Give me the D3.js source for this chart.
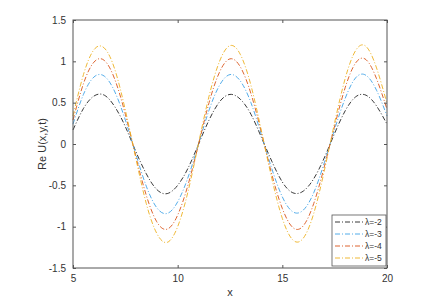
<!DOCTYPE html>
<html><head><meta charset="utf-8">
<script src="https://cdn.jsdelivr.net/npm/d3@7"></script>
<style>body{margin:0;background:#fff}svg{display:block}text{font-family:"Liberation Sans",Arial,sans-serif}</style>
</head><body><svg id="c" width="434" height="306"></svg>
<script>
const xs = [5,5.5,6,6.5,7,7.5,8,8.5,9,9.5,10,10.5,11,11.5,12,12.5,13,13.5,14,14.5,15,15.5,16,16.5,17,17.5,18,18.5,19,19.5,20];
const lam2 = [0.17,0.43,0.58,0.59,0.45,0.21,-0.09,-0.36,-0.55,-0.60,-0.50,-0.29,0.00,0.29,0.51,0.60,0.54,0.36,0.08,-0.21,-0.46,-0.59,-0.57,-0.42,-0.17,0.13,0.40,0.57,0.59,0.46,0.24];
const lam3 = [0.24,0.60,0.81,0.82,0.63,0.29,-0.12,-0.51,-0.77,-0.84,-0.70,-0.40,0.00,0.41,0.71,0.84,0.76,0.50,0.11,-0.30,-0.64,-0.82,-0.80,-0.59,-0.23,0.18,0.55,0.80,0.83,0.65,0.34];
const lam4 = [0.29,0.73,0.99,1.01,0.78,0.36,-0.15,-0.62,-0.94,-1.03,-0.86,-0.49,0.00,0.50,0.87,1.03,0.93,0.61,0.14,-0.37,-0.78,-1.01,-0.99,-0.72,-0.28,0.22,0.68,0.98,1.02,0.79,0.42];
const lam5 = [0.34,0.84,1.14,1.16,0.90,0.41,-0.17,-0.72,-1.08,-1.19,-1.00,-0.57,0.01,0.58,1.00,1.19,1.08,0.71,0.16,-0.42,-0.90,-1.16,-1.14,-0.84,-0.33,0.26,0.79,1.13,1.18,0.92,0.49];
const seriesNames = ["λ=-2","λ=-3","λ=-4","λ=-5"];
const seriesColors = ["#222222","#3FA3E6","#D95319","#EDB120"];
const xTicks = [5,10,15,20];
const yTicks = [-1.5,-1,-0.5,0,0.5,1,1.5];

const svg = d3.select("#c");
const L=73,R=387,T=20,B=268;
const x = d3.scaleLinear().domain([5,20]).range([L,R]);
const y = d3.scaleLinear().domain([-1.5,1.5]).range([B,T]);
const axCol="#555555", txtCol="#333333";

const series=[lam2,lam3,lam4,lam5];
const line=d3.line().x((d,i)=>x(xs[i])).y(d=>y(d)).curve(d3.curveNatural);
const g=svg.append("g");
series.forEach((s,k)=>{
  g.append("path").attr("d",line(s)).attr("fill","none").attr("stroke",seriesColors[k])
   .attr("stroke-width",0.9).attr("stroke-dasharray","5,2,1,2");
});

function styleAxis(sel){
  sel.select(".domain").remove();
  sel.selectAll("line").attr("stroke",axCol);
  sel.selectAll("text").attr("fill",txtCol).style("font-size","10px");
}
svg.append("g").attr("transform",`translate(0,${B})`).call(d3.axisBottom(x).tickValues(xTicks).tickSizeInner(-3).tickSizeOuter(0).tickPadding(7).tickFormat(d3.format("d"))).call(styleAxis);
svg.append("g").attr("transform",`translate(0,${T})`).call(d3.axisTop(x).tickValues(xTicks).tickSizeInner(-3).tickSizeOuter(0).tickFormat("")).call(styleAxis);
svg.append("g").attr("transform",`translate(${L},0)`).call(d3.axisLeft(y).tickValues(yTicks).tickSizeInner(-3).tickSizeOuter(0).tickPadding(7).tickFormat(d=>String(d))).call(styleAxis);
svg.append("g").attr("transform",`translate(${R},0)`).call(d3.axisRight(y).tickValues(yTicks).tickSizeInner(-3).tickSizeOuter(0).tickFormat("")).call(styleAxis);
svg.append("rect").attr("x",L).attr("y",T).attr("width",R-L).attr("height",B-T).attr("fill","none").attr("stroke",axCol).attr("stroke-width",1);

svg.append("text").attr("x",(L+R)/2).attr("y",296).attr("text-anchor","middle").attr("fill",txtCol).style("font-size","11px").text("x");
svg.append("text").attr("transform",`translate(46,${(T+B)/2}) rotate(-90)`).attr("text-anchor","middle").attr("fill",txtCol).style("font-size","11px").text("Re U(x,y,t)");

const lg=svg.append("g");
const lx=332, ly=215, lw=54, lh=51;
lg.append("rect").attr("x",lx).attr("y",ly).attr("width",lw).attr("height",lh).attr("fill","#fff").attr("stroke",axCol).attr("stroke-width",0.8);
seriesNames.forEach((n,k)=>{
  const yy=ly+7+k*12;
  lg.append("line").attr("x1",lx+3).attr("x2",lx+31).attr("y1",yy).attr("y2",yy).attr("stroke",seriesColors[k]).attr("stroke-width",0.9).attr("stroke-dasharray","5,2,1,2");
  lg.append("text").attr("x",lx+33).attr("y",yy+3).attr("fill",txtCol).style("font-size","8.5px").text(n);
});
</script></body></html>
